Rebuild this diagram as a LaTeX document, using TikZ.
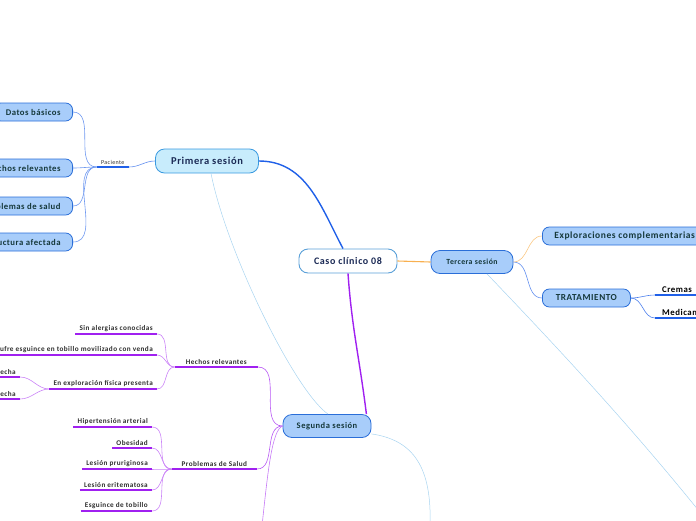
\documentclass[tikz,border=0pt]{standalone}
\usepackage{fontspec}
\setmainfont{Carlito}[LetterSpace=6]
\usepackage{xcolor}
\usetikzlibrary{positioning}
\definecolor{navytxt}{HTML}{1B2A55}
\definecolor{tealtxt}{HTML}{15383A}
\definecolor{leaftxt}{HTML}{2E2E2E}
\definecolor{boxfill}{HTML}{A8CDFA}
\definecolor{boxedge}{HTML}{2A6ED8}
\definecolor{primfill}{HTML}{C8ECFC}
\definecolor{primedge}{HTML}{3A9AE0}
\definecolor{rootedge}{HTML}{5AA0D8}
\definecolor{mindblue}{HTML}{2060E8}
\definecolor{mindpurple}{HTML}{A020F0}
\definecolor{mindorange}{HTML}{F8B050}
\definecolor{rellight}{HTML}{A8D4F0}

\begin{document}
\begin{tikzpicture}[x=1pt, y=-1pt,
  root/.style={rectangle, rounded corners=9pt, draw=rootedge, fill=white,
    line width=0.9pt, text=navytxt, minimum width=98pt, minimum height=24pt,
    font=\bfseries\fontsize{10}{12}\selectfont},
  session/.style 2 args={rectangle, rounded corners=9pt, draw=#1, fill=#2,
    line width=0.8pt, text=tealtxt, minimum height=23pt, inner xsep=12pt,
    font=\bfseries\fontsize{8.5}{10}\selectfont},
  topic/.style={rectangle, rounded corners=7pt, draw=boxedge, fill=boxfill,
    line width=0.8pt, text=tealtxt, minimum height=18pt, inner xsep=12pt,
    font=\bfseries\fontsize{8.7}{10}\selectfont},
  leaf/.style={anchor=south east, inner xsep=4pt, inner ysep=2pt,
    text=leaftxt, font=\bfseries\fontsize{7.2}{8}\selectfont},
  plainlbl/.style={anchor=south west, inner xsep=7pt, inner ysep=2pt,
    text width=50pt, text=black, font=\bfseries\fontsize{8.8}{10}\selectfont},
  rootline/.style={line width=1.4pt, draw=#1},
  thin/.style={line width=0.6pt, draw=#1},
  uline/.style={line width=1.2pt, draw=#1},
  rel/.style={line width=0.5pt, draw=rellight}
]
\useasboundingbox (0,0) rectangle (696,520);
\clip (0,0) rectangle (696,520);

% main topics
\node[root] (caso) at (348,261) {Caso clínico 08};
\node[session={primedge}{primfill}, minimum width=103pt, minimum height=24pt,
      text=navytxt, font=\bfseries\fontsize{10.5}{12}\selectfont]
  (prim) at (207,161) {Primera sesión};
\node[session={boxedge}{boxfill}, minimum width=82pt,
      font=\bfseries\fontsize{7.8}{9}\selectfont]
  (terc) at (472,262) {Tercera sesión};
\node[session={boxedge}{boxfill}, minimum width=88pt] (seg) at (327,426) {Segunda sesión};

% primera sesion
\node[leaf, inner xsep=2pt, font=\fontsize{6}{7}\selectfont,
      minimum width=32pt] (pac) at (129,167) {Paciente};
\node[topic, anchor=east] (datos) at (73,112) {Datos básicos};
\node[topic, anchor=east] (hechos) at (73,168) {Hechos relevantes};
\node[topic, anchor=east] (probs) at (73,206) {Problemas de salud};
\node[topic, anchor=east] (estr) at (73,242) {Estructura afectada};

% tercera sesion
\node[topic, anchor=west, font=\bfseries\fontsize{9.5}{11}\selectfont]
  (expl) at (542,236) {Exploraciones complementarias};
\node[topic, anchor=west, minimum width=88pt, font=\bfseries\fontsize{9.2}{11}\selectfont]
  (trat) at (542,298) {TRATAMIENTO};
\node[plainlbl] (crem) at (655,295) {Cremas};
\node[plainlbl] (medi) at (655,318) {Medicamentos};

% segunda sesion
\node[leaf, minimum width=83pt] (hrel) at (258,367) {Hechos relevantes};
\node[leaf, minimum width=85pt] (psal) at (257,469) {Problemas de Salud};
\node[leaf] (alerg) at (157,334) {Sin alergias conocidas};
\node[leaf] (esgu) at (157,355) {Sufre esguince en tobillo movilizado con venda};
\node[leaf] (explo) at (157,389) {En exploración física presenta};
\node[leaf] (der1) at (20,377) {derecha};
\node[leaf] (der2) at (20,399) {derecha};
\node[leaf] (hta) at (152,427) {Hipertensión arterial};
\node[leaf] (obes) at (152,448) {Obesidad};
\node[leaf] (prur) at (152,469) {Lesión pruriginosa};
\node[leaf] (erit) at (152,490) {Lesión eritematosa};
\node[leaf] (tobi) at (152,511) {Esguince de tobillo};

\coordinate (segdown) at (262,526);
\coordinate (segend) at (430,526);
\coordinate (tercend) at (703,516);

% branches from the root
\draw[rootline=mindblue] (prim.east) to[out=0,in=118] ([xshift=-5pt]caso.north);
\draw[rootline=mindpurple] (caso.south) to[out=-86,in=97] ([xshift=-5pt]seg.north east);
\draw[rootline=mindorange, line width=1.1pt] (caso.east) -- (terc.west);

% relationships
\draw[rel] ([xshift=4pt]prim.south) .. controls (226,250) and (294,390) .. ([xshift=1pt]seg.north);
\draw[rel] ([yshift=4pt]seg.south east) .. controls (414,440) and (432,468) .. (segend);
\draw[rel] ([xshift=15pt]terc.south) .. controls (555,345) and (630,425) .. (tercend);

% primera sesion links
\draw[thin=mindblue!70] (prim.west) to[out=180,in=0] (pac.south east);
\draw[uline=mindblue] (pac.south west) -- (pac.south east);
\foreach \b in {datos,hechos,probs,estr}
  \draw[thin=mindblue!65] (pac.south west) to[out=180,in=0] (\b.east);

% tercera sesion links
\draw[thin=mindorange!70] (terc.east) to[out=0,in=180] (expl.west);
\draw[thin=mindblue!70] (terc.east) to[out=0,in=180] (trat.west);
\draw[thin=mindblue!80] (trat.east) to[out=0,in=180] (crem.south west);
\draw[thin=mindblue!80] (trat.east) to[out=0,in=180] (medi.south west);
\draw[uline=mindblue] (crem.south west) -- (crem.south east);
\draw[uline=mindblue] (medi.south west) -- (medi.south east);

% segunda sesion links
\draw[thin=mindpurple!75] (hrel.south east) to[out=0,in=180] (seg.west);
\draw[thin=mindpurple!75] (psal.south east) to[out=0,in=180] (seg.west);
\draw[thin=mindpurple!60] (seg.west) .. controls (272,430) and (268,470) .. (segdown);
\foreach \l in {alerg,esgu,explo}
  \draw[thin=mindpurple!55] (hrel.south west) to[out=180,in=0] (\l.south east);
\foreach \l in {der1,der2}
  \draw[thin=mindpurple!55] (explo.south west) to[out=180,in=0] (\l.south east);
\foreach \l in {hta,obes,prur,erit,tobi}
  \draw[thin=mindpurple!55] (psal.south west) to[out=180,in=0] (\l.south east);
\foreach \l in {hrel,psal,alerg,esgu,explo,der1,der2,hta,obes,prur,erit,tobi}
  \draw[uline=mindpurple] (\l.south west) -- (\l.south east);
\end{tikzpicture}
\end{document}
